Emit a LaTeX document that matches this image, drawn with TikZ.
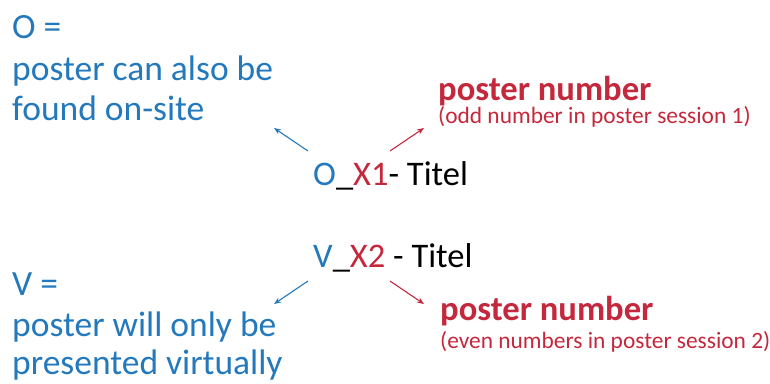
\documentclass[tikz,border=0pt]{standalone}
\usepackage{fontspec}
\setmainfont{Carlito}
\usetikzlibrary{arrows.meta}
\definecolor{pblue}{HTML}{2479BD}
\definecolor{pred}{HTML}{C4283C}
\tikzset{
  bluetxt/.style={anchor=base west, inner sep=0pt, text=pblue, font=\fontsize{35.5}{40}\selectfont},
  codetxt/.style={anchor=base west, inner sep=0pt, font=\fontsize{34.5}{40}\selectfont},
  redhead/.style={anchor=base west, inner sep=0pt, text=pred, font=\bfseries\fontsize{34.6}{40}\selectfont},
  redsub/.style={anchor=base west, inner sep=0pt, text=pred, font=\fontsize{23.4}{26}\selectfont},
  bluearr/.style={pblue, line width=1.1pt, -{Stealth[length=7pt,width=5.5pt]}},
  redarr/.style={pred, line width=1.1pt, -{Stealth[length=7pt,width=5.5pt]}},
}
\begin{document}
\begin{tikzpicture}[x=1pt,y=-1pt]
\useasboundingbox (0,0) rectangle (770,383);
% top left
\node[bluetxt] (o1) at (12,38) {O =};
\node[bluetxt] (o2) at (12,80) {poster can also be};
\node[bluetxt] (o3) at (12,120) {found on-site};
% top code
\node[codetxt] (c1) at (313,185) {\textcolor{pblue}{O}\_\textcolor{pred}{X1}- Titel};
% top right
\node[redhead] (r1) at (438,100) {poster number};
\node[redsub] (r1s) at (438,123) {(odd number in poster session 1)};
% bottom code
\node[codetxt] (c2) at (313,267) {\textcolor{pblue}{V}\_\textcolor{pred}{X2} - Titel};
% bottom left
\node[bluetxt] (v1) at (12,295) {V =};
\node[bluetxt] (v2) at (12,336) {poster will only be};
\node[bluetxt] (v3) at (12,374) {presented virtually};
% bottom right
\node[redhead] (r2) at (440,320) {poster number};
\node[redsub] (r2s) at (440,348) {(even numbers in poster session 2)};
% arrow coordinates
\coordinate (a1s) at (308,151);
\coordinate (a1e) at (274,128);
\coordinate (a2s) at (390,151);
\coordinate (a2e) at (424,128);
\coordinate (a3s) at (308,281);
\coordinate (a3e) at (274,304);
\coordinate (a4s) at (390,281);
\coordinate (a4e) at (424,304);
\draw[bluearr] (a1s) -- (a1e);
\draw[redarr] (a2s) -- (a2e);
\draw[bluearr] (a3s) -- (a3e);
\draw[redarr] (a4s) -- (a4e);
\end{tikzpicture}
\end{document}
